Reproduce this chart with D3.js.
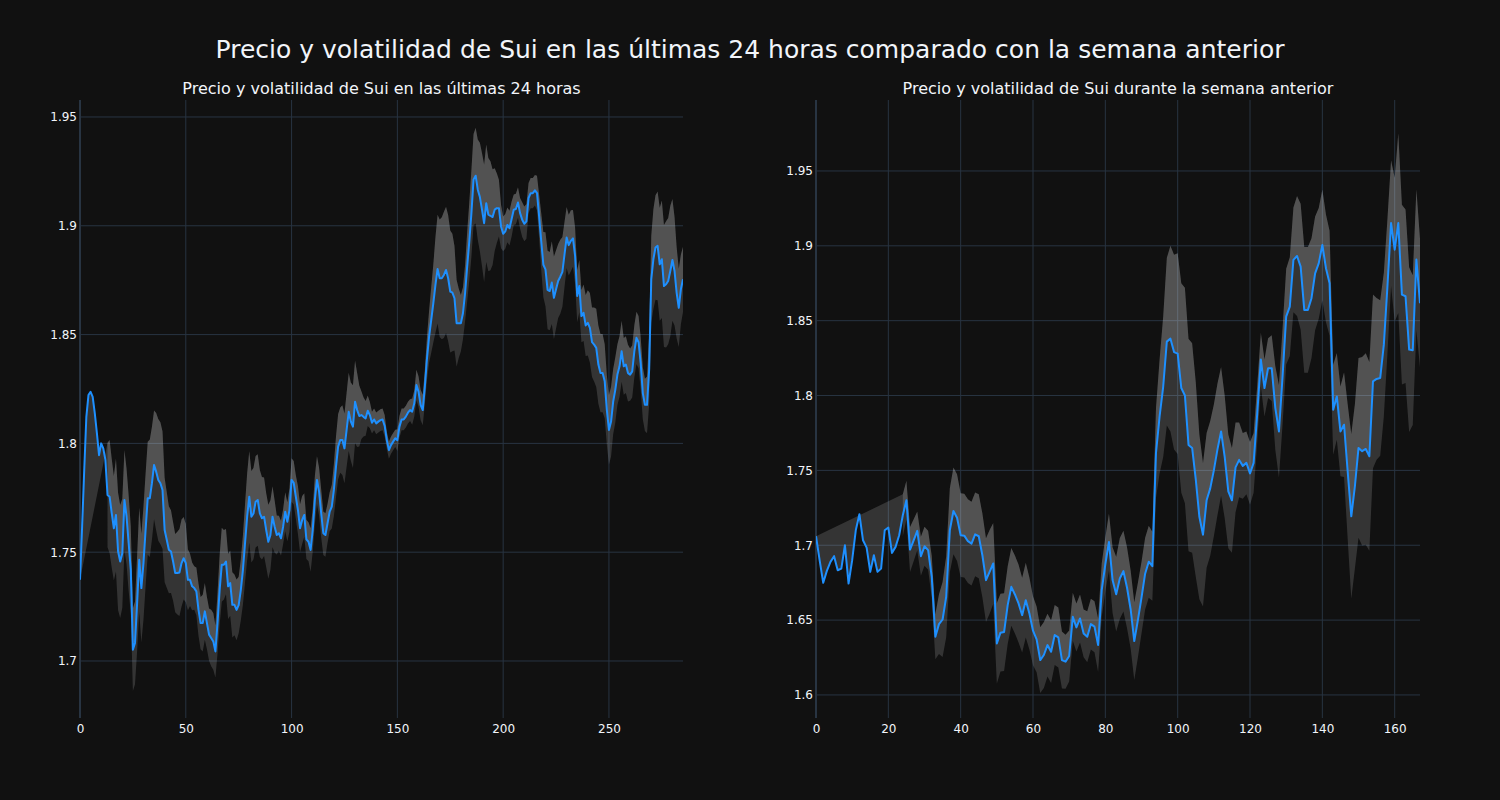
<!DOCTYPE html>
<html><head><meta charset="utf-8">
<script src="https://cdn.jsdelivr.net/npm/d3@7"></script>
<style>body{margin:0;background:#111111;} svg{display:block}</style>
</head><body>
<svg id="chart" width="1500" height="800"></svg>
<script>
const mainTitle = "Precio y volatilidad de Sui en las últimas 24 horas comparado con la semana anterior";
const leftTitle = "Precio y volatilidad de Sui en las últimas 24 horas";
const rightTitle = "Precio y volatilidad de Sui durante la semana anterior";

const leftPrice = [1.7373,1.7618,1.7878,1.8122,1.8222,1.8237,1.8214,1.8138,1.8046,1.7946,
1.8000,1.7977,1.7924,1.7763,1.7755,1.7679,1.7610,1.7671,1.7503,1.7457,
1.7495,1.7740,1.7664,1.7541,1.7419,1.7052,1.7083,1.7266,1.7465,1.7335,
1.7450,1.7602,1.7748,1.7748,1.7817,1.7901,1.7870,1.7832,1.7817,1.7786,
1.7602,1.7557,1.7511,1.7503,1.7457,1.7404,1.7404,1.7407,1.7450,1.7472,
1.7450,1.7373,1.7373,1.7343,1.7335,1.7320,1.7236,1.7174,1.7174,1.7228,
1.7174,1.7121,1.7106,1.7090,1.7044,1.7174,1.7327,1.7442,1.7442,1.7457,
1.7343,1.7358,1.7258,1.7258,1.7235,1.7257,1.7326,1.7418,1.7541,1.7663,
1.7755,1.7663,1.7678,1.7732,1.7740,1.7678,1.7656,1.7663,1.7602,1.7548,
1.7579,1.7663,1.7617,1.7579,1.7587,1.7564,1.7617,1.7686,1.7640,1.7694,
1.7832,1.7819,1.7755,1.7694,1.7610,1.7648,1.7671,1.7559,1.7548,1.7510,
1.7602,1.7740,1.7832,1.7778,1.7678,1.7587,1.7579,1.7633,1.7686,1.7709,
1.7786,1.7893,1.7985,1.8015,1.8015,1.7977,1.8061,1.8145,1.8100,1.8077,
1.8191,1.8153,1.8126,1.8130,1.8122,1.8115,1.8150,1.8130,1.8095,1.8110,
1.8092,1.8100,1.8107,1.8110,1.8080,1.8015,1.7969,1.7992,1.8008,1.8023,
1.8015,1.8077,1.8110,1.8110,1.8123,1.8141,1.8153,1.8146,1.8184,1.8268,
1.8238,1.8176,1.8153,1.8261,1.8391,1.8491,1.8567,1.8644,1.8728,1.8801,
1.8759,1.8759,1.8774,1.8797,1.8759,1.8698,1.8693,1.8667,1.8552,1.8552,
1.8552,1.8598,1.8690,1.8813,1.8928,1.9058,1.9212,1.9230,1.9166,1.9132,
1.9074,1.9012,1.9104,1.9051,1.9046,1.9040,1.9074,1.9081,1.9081,1.8997,
1.8963,1.8974,1.9004,1.8989,1.9031,1.9074,1.9077,1.9107,1.9058,1.9028,
1.9009,1.9020,1.9127,1.9150,1.9150,1.9163,1.9150,1.9043,1.8928,1.8821,
1.8800,1.8705,1.8700,1.8739,1.8669,1.8708,1.8746,1.8766,1.8788,1.8869,
1.8946,1.8911,1.8931,1.8942,1.8862,1.8677,1.8723,1.8585,1.8600,1.8542,
1.8554,1.8531,1.8465,1.8454,1.8439,1.8362,1.8323,1.8323,1.8285,1.8154,
1.8062,1.8100,1.8192,1.8246,1.8316,1.8354,1.8423,1.8354,1.8362,1.8323,
1.8316,1.8331,1.8423,1.8485,1.8465,1.8369,1.8231,1.8177,1.8177,1.8339,
1.8754,1.8846,1.8900,1.8908,1.8823,1.8846,1.8723,1.8731,1.8746,1.8792,
1.8843,1.8792,1.8692,1.8623,1.8708,1.8754];

const leftVol = [null,null,null,null,null,null,null,null,null,null,
null,null,null,0.024,0.026,0.025,0.024,0.026,0.027,0.026,
0.025,0.023,0.022,0.022,0.020,0.019,0.019,0.022,0.024,0.025,
0.026,0.026,0.026,0.027,0.026,0.025,0.027,0.028,0.028,0.027,
0.024,0.022,0.020,0.019,0.018,0.018,0.019,0.020,0.020,0.019,
0.018,0.014,0.012,0.011,0.010,0.011,0.012,0.012,0.013,0.013,
0.012,0.012,0.013,0.013,0.012,0.014,0.016,0.017,0.016,0.015,
0.015,0.015,0.015,0.014,0.014,0.013,0.014,0.016,0.018,0.020,
0.021,0.021,0.021,0.021,0.021,0.020,0.019,0.018,0.017,0.017,
0.016,0.014,0.012,0.009,0.008,0.008,0.008,0.009,0.009,0.010,
0.010,0.010,0.010,0.011,0.011,0.011,0.010,0.009,0.009,0.010,
0.010,0.011,0.011,0.011,0.011,0.010,0.010,0.009,0.009,0.010,
0.012,0.014,0.015,0.015,0.016,0.016,0.017,0.018,0.018,0.019,
0.019,0.017,0.014,0.011,0.009,0.008,0.007,0.006,0.005,0.005,
0.005,0.005,0.005,0.005,0.005,0.004,0.004,0.004,0.004,0.004,
0.005,0.005,0.005,0.005,0.005,0.005,0.005,0.006,0.006,0.007,
0.007,0.007,0.007,0.008,0.010,0.012,0.015,0.018,0.022,0.025,
0.027,0.028,0.029,0.029,0.029,0.028,0.027,0.024,0.020,0.016,
0.013,0.012,0.013,0.016,0.018,0.020,0.021,0.022,0.023,0.025,
0.026,0.027,0.027,0.026,0.025,0.022,0.019,0.016,0.013,0.010,
0.008,0.008,0.008,0.008,0.008,0.007,0.007,0.007,0.007,0.008,
0.008,0.008,0.007,0.007,0.007,0.007,0.008,0.010,0.013,0.015,
0.017,0.018,0.018,0.019,0.019,0.018,0.017,0.017,0.016,0.015,
0.014,0.014,0.014,0.013,0.013,0.012,0.012,0.012,0.013,0.014,
0.015,0.016,0.016,0.017,0.018,0.018,0.018,0.018,0.017,0.016,
0.016,0.016,0.015,0.015,0.014,0.014,0.014,0.013,0.013,0.013,
0.012,0.012,0.012,0.012,0.012,0.012,0.012,0.012,0.013,0.016,
0.020,0.023,0.024,0.025,0.026,0.027,0.028,0.029,0.029,0.030,
0.028,0.025,0.021,0.018,0.016,0.015];

const rightPrice = [1.7060,1.6900,1.6749,1.6829,1.6889,1.6927,1.6833,1.6844,1.7000,1.6744,
1.6900,1.7100,1.7207,1.7033,1.6984,1.6822,1.6933,1.6822,1.6844,1.7100,
1.7118,1.6949,1.6989,1.7067,1.7200,1.7300,1.6971,1.7033,1.7096,1.6927,
1.6993,1.6967,1.6789,1.6389,1.6473,1.6504,1.6656,1.7100,1.7229,1.7184,
1.7067,1.7064,1.7027,1.7011,1.7073,1.7060,1.6933,1.6767,1.6822,1.6878,
1.6344,1.6416,1.6420,1.6600,1.6722,1.6671,1.6611,1.6533,1.6633,1.6544,
1.6429,1.6371,1.6233,1.6267,1.6333,1.6289,1.6400,1.6384,1.6233,1.6222,
1.6260,1.6522,1.6451,1.6511,1.6411,1.6389,1.6473,1.6456,1.6333,1.6700,
1.6873,1.7022,1.6767,1.6673,1.6778,1.6827,1.6716,1.6571,1.6360,1.6500,
1.6650,1.6810,1.6890,1.6860,1.7616,1.7860,1.8060,1.8360,1.8380,1.8290,
1.8280,1.8050,1.8000,1.7670,1.7650,1.7440,1.7190,1.7070,1.7300,1.7380,
1.7500,1.7640,1.7760,1.7590,1.7360,1.7300,1.7520,1.7570,1.7530,1.7550,
1.7480,1.7550,1.7880,1.8240,1.8050,1.8183,1.8183,1.7916,1.7760,1.8127,
1.8527,1.8594,1.8906,1.8932,1.8861,1.8572,1.8572,1.8650,1.8816,1.8883,
1.9006,1.8850,1.8750,1.7905,1.7994,1.7760,1.7805,1.7494,1.7193,1.7394,
1.7650,1.7628,1.7643,1.7594,1.8095,1.8111,1.8117,1.8340,1.8730,1.9152,
1.8974,1.9152,1.8674,1.8663,1.8307,1.8303,1.8908,1.8617];

const rightVol = [null,null,null,null,null,null,null,null,null,null,
null,null,null,null,null,null,null,null,null,null,
null,null,null,null,0.014,0.013,0.015,0.014,0.013,0.013,
0.013,0.013,0.014,0.015,0.020,0.025,0.027,0.028,0.029,0.029,
0.028,0.028,0.028,0.028,0.028,0.028,0.028,0.028,0.028,0.027,
0.027,0.026,0.026,0.026,0.026,0.026,0.026,0.025,0.025,0.024,
0.023,0.022,0.022,0.022,0.021,0.021,0.020,0.020,0.019,0.018,
0.017,0.016,0.016,0.016,0.016,0.017,0.017,0.017,0.018,0.018,
0.018,0.019,0.022,0.025,0.027,0.027,0.027,0.026,0.026,0.025,
0.024,0.024,0.024,0.023,0.030,0.038,0.047,0.056,0.062,0.065,
0.067,0.070,0.072,0.071,0.070,0.065,0.055,0.048,0.045,0.045,
0.044,0.044,0.043,0.041,0.038,0.035,0.030,0.025,0.022,0.021,
0.021,0.020,0.019,0.018,0.019,0.020,0.022,0.028,0.031,0.032,
0.032,0.033,0.035,0.040,0.042,0.042,0.042,0.040,0.038,0.037,
0.037,0.036,0.035,0.030,0.029,0.030,0.035,0.045,0.055,0.055,
0.060,0.063,0.064,0.063,0.058,0.054,0.052,0.048,0.045,0.042,
0.048,0.060,0.060,0.058,0.055,0.050,0.047,0.043];

const leftXTicks = [0, 50, 100, 150, 200, 250];
const leftYTicks = [1.7, 1.75, 1.8, 1.85, 1.9, 1.95];
const rightXTicks = [0, 20, 40, 60, 80, 100, 120, 140, 160];
const rightYTicks = [1.6, 1.65, 1.7, 1.75, 1.8, 1.85, 1.9, 1.95];

const FONT = "'DejaVu Sans', sans-serif";
const TXT = "#f2f5fa";
const GRID = "#283442";
const LINE = "#1e90ff";
const FILL = "rgba(255,255,255,0.15)";

const svg = d3.select("#chart");
svg.append("rect").attr("width", 1500).attr("height", 800).attr("fill", "#111111");

svg.append("text").attr("x", 750).attr("y", 58).attr("text-anchor", "middle")
  .attr("font-family", FONT).attr("font-size", 25).attr("fill", TXT).text(mainTitle);

function panel(id, left, right, price, vol, yDomain, xTicks, yTicks, title) {
  const top = 100, bottom = 718;
  const x = d3.scaleLinear().domain([0, price.length - 1]).range([left, right]);
  const y = d3.scaleLinear().domain(yDomain).range([bottom, top]);
  const g = svg.append("g");

  g.append("clipPath").attr("id", id).append("rect")
    .attr("x", left).attr("y", top).attr("width", right - left).attr("height", bottom - top);

  g.append("g").selectAll("line").data(yTicks).join("line")
    .attr("x1", left).attr("x2", right).attr("y1", d => y(d)).attr("y2", d => y(d))
    .attr("stroke", GRID).attr("stroke-width", 1);
  g.append("g").selectAll("line").data(xTicks).join("line")
    .attr("x1", d => x(d)).attr("x2", d => x(d)).attr("y1", top).attr("y2", bottom)
    .attr("stroke", GRID).attr("stroke-width", d => d === 0 ? 2 : 1);

  const pts = price.map((v, i) => ({i, v}));
  const upper = price.map((v, i) => ({i, v: vol[i] == null ? null : v + vol[i]})).filter(d => d.v != null);
  const lower = price.map((v, i) => ({i, v: vol[i] == null ? null : v - vol[i]})).filter(d => d.v != null);
  const line = d3.line().x(d => x(d.i)).y(d => y(d.v));

  const plot = g.append("g").attr("clip-path", `url(#${id})`);
  plot.append("path").attr("d", line(upper.concat(pts.slice().reverse())) + "Z")
    .attr("fill", FILL).attr("stroke", "none");
  plot.append("path").attr("d", line(lower.concat(upper.slice().reverse())) + "Z")
    .attr("fill", FILL).attr("stroke", "none");
  plot.append("path").attr("d", line(pts)).attr("fill", "none")
    .attr("stroke", LINE).attr("stroke-width", 2).attr("stroke-linejoin", "round");

  const fmt = d3.format("");
  const ya = g.append("g").attr("transform", `translate(${left},0)`)
    .call(d3.axisLeft(y).tickValues(yTicks).tickSize(0).tickPadding(3).tickFormat(fmt));
  ya.select(".domain").remove();
  ya.selectAll("text").attr("font-family", FONT).attr("font-size", 12).attr("fill", TXT);
  const xa = g.append("g").attr("transform", `translate(0,${bottom})`)
    .call(d3.axisBottom(x).tickValues(xTicks).tickSize(0).tickPadding(6).tickFormat(fmt));
  xa.select(".domain").remove();
  xa.selectAll("text").attr("font-family", FONT).attr("font-size", 12).attr("fill", TXT);

  g.append("text").attr("x", (left + right) / 2).attr("y", 94).attr("text-anchor", "middle")
    .attr("font-family", FONT).attr("font-size", 16).attr("fill", TXT).text(title);
}

panel("clipL", 80, 683, leftPrice, leftVol, [1.6738, 1.9578], leftXTicks, leftYTicks, leftTitle);
panel("clipR", 816, 1420, rightPrice, rightVol, [1.5846, 1.9974], rightXTicks, rightYTicks, rightTitle);
</script>
</body></html>
